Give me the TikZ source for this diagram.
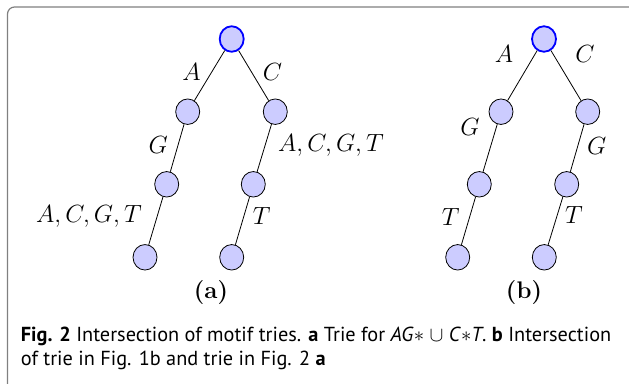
\documentclass[tikz,border=0pt]{standalone}
\usepackage{fontspec}
\newfontfamily\capfont{PT Sans}
\usetikzlibrary{shapes.geometric}
\definecolor{nodefill}{RGB}{204,204,255}
\definecolor{framegray}{RGB}{128,128,128}
\begin{document}
\begin{tikzpicture}[x=1pt,y=-1pt,
  trienode/.style={ellipse,draw=black,line width=0.8pt,fill=nodefill,minimum width=24pt,minimum height=25.5pt,inner sep=0pt},
  rootnode/.style={trienode,draw=blue,line width=1.8pt},
  edge/.style={draw=black,line width=0.8pt},
  lbl/.style={inner sep=0pt,font=\fontsize{27.5}{31}\selectfont,text height=0.68em,text depth=0pt},
  sublbl/.style={inner sep=0pt,font=\fontsize{24}{28}\selectfont\bfseries},
  captxt/.style={inner sep=0pt,anchor=base west,font=\capfont\fontsize{20.3}{24}\selectfont}]
\useasboundingbox (0,0) rectangle (629,383);
\begin{scope}
\clip (0,0) rectangle (629,383);
\draw[framegray,line width=1.2pt,rounded corners=7pt] (7.5,7) rectangle (660,420);
\end{scope}
% tree (a)
\node[rootnode] (ra) at (231.7,39) {};
\node[trienode] (a1) at (187.7,111.7) {};
\node[trienode] (c1) at (275.3,111.7) {};
\node[trienode] (a2) at (166.7,184.3) {};
\node[trienode] (c2) at (253.3,184.3) {};
\node[trienode] (a3) at (145,257.3) {};
\node[trienode] (c3) at (231.7,257.3) {};
\draw[edge] (ra) -- (a1);
\draw[edge] (ra) -- (c1);
\draw[edge] (a1) -- (a2);
\draw[edge] (a2) -- (a3);
\draw[edge] (c1) -- (c2);
\draw[edge] (c2) -- (c3);
\node[lbl] (la1) at (191.5,76.7) {$A$};
\node[lbl] (lc1) at (272.5,76.7) {$C$};
\node[lbl] (la2) at (158.3,150) {$G$};
\node[lbl] (lc2) at (331,148.3) {$A,C,G,T$};
\node[lbl] (la3) at (89,218.7) {$A,C,G,T$};
\node[lbl] (lc3) at (261.7,220.7) {$T$};
\node[sublbl] (capa) at (211,293) {(a)};
% tree (b)
\node[rootnode] (rb) at (544,39) {};
\node[trienode] (b1) at (501,111.7) {};
\node[trienode] (d1) at (587.7,111.7) {};
\node[trienode] (b2) at (479.3,184.3) {};
\node[trienode] (d2) at (566.7,184.3) {};
\node[trienode] (b3) at (457.7,257.3) {};
\node[trienode] (d3) at (544.3,257.3) {};
\draw[edge] (rb) -- (b1);
\draw[edge] (rb) -- (d1);
\draw[edge] (b1) -- (b2);
\draw[edge] (b2) -- (b3);
\draw[edge] (d1) -- (d2);
\draw[edge] (d2) -- (d3);
\node[lbl] (lb1) at (504,59) {$A$};
\node[lbl] (ld1) at (585,59) {$C$};
\node[lbl] (lb2) at (470,132) {$G$};
\node[lbl] (ld2) at (596.7,151) {$G$};
\node[lbl] (lb3) at (450.8,221.7) {$T$};
\node[lbl] (ld3) at (574,220) {$T$};
\node[sublbl] (capb) at (524,293) {(b)};
% caption
\node[captxt] (cap1) at (20.7,341.7) {\textbf{Fig. 2} Intersection of motif tries. \textbf{a} Trie for \textit{AG}$\ast$\ $\cup$\ \textit{C}$\ast$\textit{T}. \textbf{b} Intersection};
\node[captxt] (cap2) at (20.7,365.5) {of trie in Fig. 1b and trie in Fig. 2 \textbf{a}};
\end{tikzpicture}
\end{document}
